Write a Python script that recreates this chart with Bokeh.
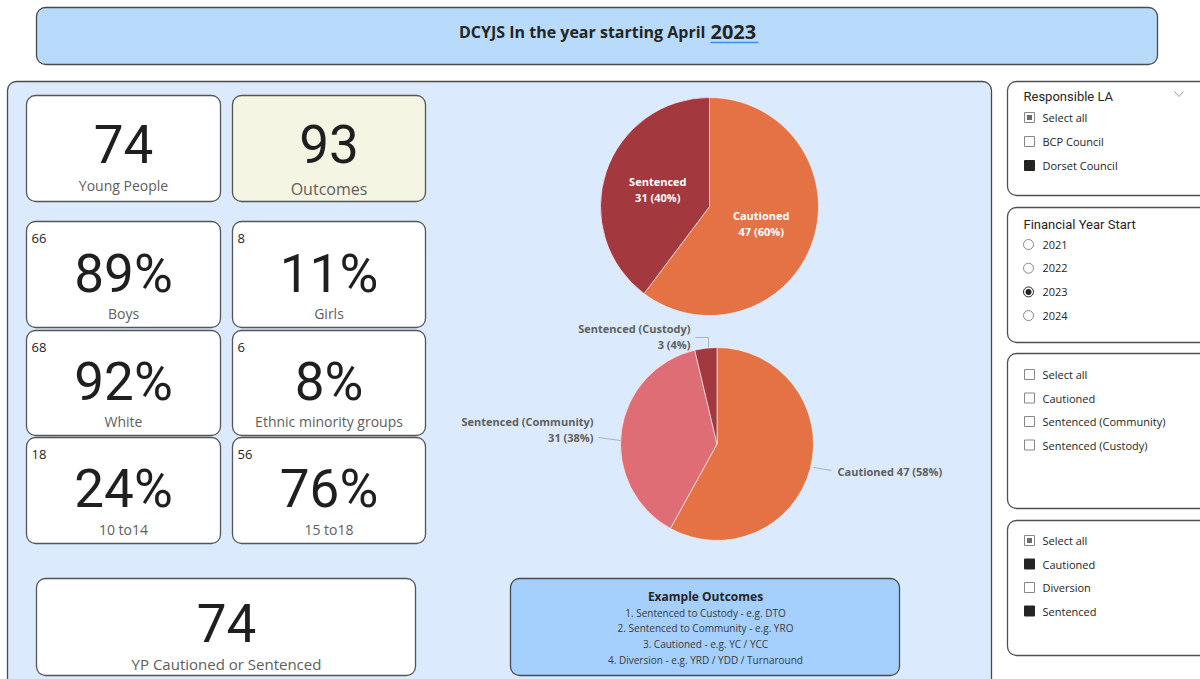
import numpy as np
from bokeh.plotting import figure
from bokeh.models import Range1d, BoxAnnotation, ColumnDataSource
from bokeh.core.properties import value
from bokeh.embed import file_html
from bokeh.resources import INLINE

# ---------------- data ----------------
title_text = "DCYJS In the year starting April"
title_year = "2023"

kpi_labels = ["Young People", "Outcomes"]
kpi_values = [74, 93]

demo_labels = ["Boys", "Girls", "White", "Ethnic minority groups", "10 to14", "15 to18"]
demo_counts = [66, 8, 68, 6, 18, 56]
demo_pct = [89, 11, 92, 8, 24, 76]

yp_label = "YP Cautioned or Sentenced"
yp_value = 74

outcome_cats = ["Cautioned", "Sentenced"]
outcome_vals = [47, 31]
outcome_colors = ["#e57244", "#a3383f"]

detail_cats = ["Cautioned", "Sentenced (Community)", "Sentenced (Custody)"]
detail_vals = [47, 31, 3]
detail_colors = ["#e57244", "#de6d75", "#a3383f"]

example_title = "Example Outcomes"
example_lines = [
    "1. Sentenced to Custody - e.g. DTO",
    "2. Sentenced to Community - e.g. YRO",
    "3. Cautioned - e.g. YC / YCC",
    "4. Diversion - e.g. YRD / YDD / Turnaround",
]

la_header = "Responsible LA"
la_items = ["Select all", "BCP Council", "Dorset Council"]
la_states = ["partial", "off", "on"]

year_header = "Financial Year Start"
year_items = ["2021", "2022", "2023", "2024"]
year_selected = "2023"

type_items = ["Select all", "Cautioned", "Sentenced (Community)", "Sentenced (Custody)"]
type_states = ["off", "off", "off", "off"]

group_items = ["Select all", "Cautioned", "Diversion", "Sentenced"]
group_states = ["partial", "on", "off", "on"]

# ---------------- figure ----------------
W, H = 1200, 679
p = figure(width=W, height=H, x_range=Range1d(0, W), y_range=Range1d(0, H),
           output_backend="svg", toolbar_location=None, x_axis_type=None, y_axis_type=None,
           min_border=0, outline_line_color=None, background_fill_color="white",
           border_fill_color="white")
p.grid.visible = False


def Y(v):
    return 679 - v


def box(l, t, r, b, fill, line="#505050", radius=9, lw=1.3):
    p.add_layout(BoxAnnotation(left=l, right=r, top=Y(t), bottom=Y(b), fill_color=fill,
                               fill_alpha=1.0, line_color=line, line_alpha=1.0,
                               line_width=lw, border_radius=radius, level="underlay"))


def txt(x, y, s, size, color="#252423", font="Open Sans", style="normal",
        align="center", baseline="middle"):
    p.text(x=[x], y=[Y(y)], text=[s], text_font=value(font), text_font_size=f"{size}px",
           text_color=color, text_font_style=style, text_align=align, text_baseline=baseline)


BIG = 53
BIG_OFF = 1


def big(x, yc, s):
    txt(x, yc + BIG_OFF, s, BIG, font="Roboto", color="#1f1f1f")


# title
box(36, 7, 1157, 64, "#b9dbfb", line="#4a4a4a")
txt(705, 31, title_text, 16, style="bold", align="right")
txt(710, 31, title_year, 20, style="bold", align="left")
p.line(x=[710, 758], y=[Y(42), Y(42)], line_color="#3b8fe8", line_width=1.5)

# main panel
box(7, 81, 991, 720, "#dbeafc", line="#4a4a4a")

# KPI cards
card_line = "#555555"
kpi_boxes = [(26, 95, 220, 201), (232, 95, 425, 201)]
kpi_fill = ["white", "#f5f5e3"]
kpi_label_y = [185, 188]
kpi_label_size = [14, 16]
for i in range(2):
    l, t, r, b = kpi_boxes[i]
    box(l, t, r, b, kpi_fill[i], line=card_line)
    cx = (l + r) / 2
    big(cx, 142.5, str(kpi_values[i]))
    txt(cx, kpi_label_y[i], kpi_labels[i], kpi_label_size[i], color="#605e5c")

# demographic cards
row_tops = [221, 330, 437]
row_bots = [327, 435, 543]
num_c = [272, 380, 487]
lab_y = [313, 421, 529]
cols = [(26, 220), (232, 425)]
for i in range(6):
    rr, cc = divmod(i, 2)
    l, r = cols[cc]
    t, b = row_tops[rr], row_bots[rr]
    box(l, t, r, b, "white", line=card_line)
    cx = (l + r) / 2
    txt(l + 5, t + 17, str(demo_counts[i]), 13, align="left")
    big(cx, num_c[rr], f"{demo_pct[i]}%")
    txt(cx, lab_y[rr], demo_labels[i], 14, color="#605e5c")

# YP card
box(36, 578, 415, 675, "white", line=card_line)
big(226, 621, str(yp_value))
txt(226, 663, yp_label, 15, color="#605e5c")


# pies
def pie(cx, cy, r, vals, colors):
    v = np.array(vals, dtype=float)
    frac = v / v.sum()
    cum = np.concatenate([[0.0], np.cumsum(frac)])
    start = np.pi / 2 - 2 * np.pi * cum[:-1]
    end = np.pi / 2 - 2 * np.pi * cum[1:]
    src = ColumnDataSource(dict(start=start, end=end, color=colors))
    p.wedge(x=cx, y=Y(cy), radius=r, start_angle="start", end_angle="end",
            direction="clock", fill_color="color", line_color="white", line_width=0.6,
            source=src)
    return frac, (start + end) / 2


c1x, c1y, r1 = 709, 206, 109
frac1, mid1 = pie(c1x, c1y, r1, outcome_vals, outcome_colors)
for cat, v, f, m in zip(outcome_cats, outcome_vals, frac1, mid1):
    lx = c1x + 0.5 * r1 * np.cos(m)
    ly = c1y - 0.5 * r1 * np.sin(m)
    txt(lx, ly - 8, cat, 11, color="white", style="bold")
    txt(lx, ly + 8, f"{v} ({round(f * 100)}%)", 11, color="white", style="bold")

c2x, c2y, r2 = 716.5, 443.5, 96.5
frac2, mid2 = pie(c2x, c2y, r2, detail_vals, detail_colors)
lab_col = "#5f5f5f"
lead_col = "#a9b4bf"
# Cautioned (right)
p.line(x=[813, 831], y=[Y(467), Y(470)], line_color=lead_col, line_width=1)
txt(837, 471, f"{detail_cats[0]} {detail_vals[0]} ({round(frac2[0] * 100)}%)", 11,
    color=lab_col, style="bold", align="left")
# Community (left)
p.line(x=[598, 620], y=[Y(437), Y(440)], line_color=lead_col, line_width=1)
txt(593, 421, detail_cats[1], 11, color=lab_col, style="bold", align="right")
txt(593, 437, f"{detail_vals[1]} ({round(frac2[1] * 100)}%)", 11, color=lab_col,
    style="bold", align="right")
# Custody (top)
p.line(x=[695, 708, 708], y=[Y(337), Y(337), Y(347)], line_color=lead_col, line_width=1)
txt(690, 328, detail_cats[2], 11, color=lab_col, style="bold", align="right")
txt(690, 344, f"{detail_vals[2]} ({round(frac2[2] * 100)}%)", 11, color=lab_col,
    style="bold", align="right")

# example outcomes
box(510, 578, 899, 675, "#a5cffc", line="#4a4a4a")
txt(705, 596, example_title, 12, style="bold")
for i, s in enumerate(example_lines):
    txt(705, 612 + i * 15.7, s, 10, color="#3a3a3a")

# slicers
sl_line = "#505050"
box(1007, 81, 1215, 195, "white", line=sl_line)
box(1007, 207, 1215, 342, "white", line=sl_line)
box(1007, 353, 1215, 508, "white", line=sl_line)
box(1007, 520, 1215, 655, "white", line=sl_line)


def checkbox(y, state, label):
    fill = "#252423" if state == "on" else "white"
    lc = "#252423" if state == "on" else "#8a8886"
    p.rect(x=[1029], y=[Y(y)], width=10, height=10, fill_color=fill, line_color=lc,
           line_width=1)
    if state == "partial":
        p.rect(x=[1029], y=[Y(y)], width=5, height=5, fill_color="#6b6b6b",
               line_color=None)
    txt(1042, y, label, 11, align="left")


txt(1023, 96, la_header, 13, font="Roboto", align="left")
p.line(x=[1174, 1178.5, 1183], y=[Y(91), Y(96), Y(91)], line_color="#9a9a9a", line_width=1)
for i, (it, st) in enumerate(zip(la_items, la_states)):
    checkbox(117 + i * 24, st, it)

txt(1023, 224, year_header, 13, font="Roboto", align="left")
for i, yr in enumerate(year_items):
    yy = 244 + i * 23.7
    sel = yr == year_selected
    p.circle(x=[1028], y=[Y(yy)], radius=5, fill_color="white",
             line_color="#252423" if sel else "#8a8886", line_width=1)
    if sel:
        p.circle(x=[1028], y=[Y(yy)], radius=3, fill_color="#252423", line_color=None)
    txt(1042, yy, yr, 11, align="left")

for i, (it, st) in enumerate(zip(type_items, type_states)):
    checkbox(374 + i * 23.5, st, it)

for i, (it, st) in enumerate(zip(group_items, group_states)):
    checkbox(540 + i * 23.5, st, it)

open("out.html", "w").write(file_html(p, INLINE))
